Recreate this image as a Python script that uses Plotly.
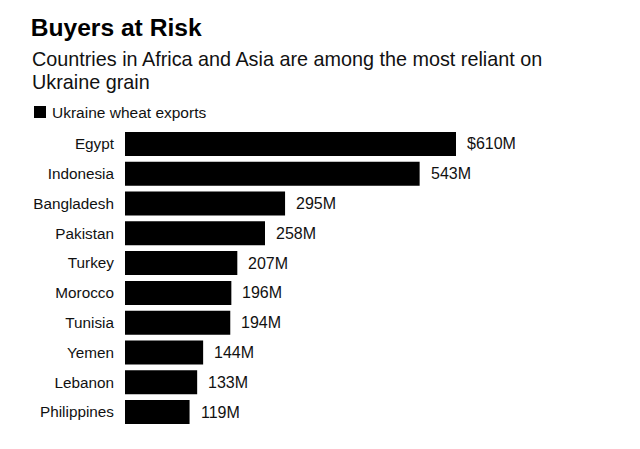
import plotly.graph_objects as go

countries = ["Egypt", "Indonesia", "Bangladesh", "Pakistan", "Turkey",
             "Morocco", "Tunisia", "Yemen", "Lebanon", "Philippines"]
exports_musd = [610, 543, 295, 258, 207, 196, 194, 144, 133, 119]
value_labels = ["$610M", "543M", "295M", "258M", "207M",
                "196M", "194M", "144M", "133M", "119M"]

FONT = "Liberation Sans, Arial, Helvetica, sans-serif"
W, H = 640, 449
L, T, B = 125, 129, 22
plot_w = 395
R = W - L - plot_w
xmax = 610 * plot_w / 331.0

fig = go.Figure()
fig.add_trace(go.Bar(
    x=exports_musd, y=countries, orientation="h",
    marker=dict(color="#000000", line=dict(width=0)),
    name="Ukraine wheat exports", showlegend=False,
    hoverinfo="skip",
))

annotations = []
for c, v, lab in zip(countries, exports_musd, value_labels):
    annotations.append(dict(
        x=v, y=c, xref="x", yref="y", text=lab, showarrow=False,
        xanchor="left", yanchor="middle", xshift=9,
        font=dict(family=FONT, size=16, color="#111111"),
    ))

# subtitle (two lines)
for txt, cy in [("Countries in Africa and Asia are among the most reliant on", 59),
                ("Ukraine grain", 82)]:
    annotations.append(dict(
        xref="paper", yref="paper", x=0, y=1, xshift=32 - L - 2, yshift=T - cy,
        xanchor="left", yanchor="middle", align="left", showarrow=False,
        text=txt,
        font=dict(family=FONT, size=19.8, color="#111111"),
    ))
# legend text
annotations.append(dict(
    xref="paper", yref="paper", x=0, y=1, xshift=52 - L - 2, yshift=T - 112,
    xanchor="left", yanchor="middle", showarrow=False,
    text="Ukraine wheat exports",
    font=dict(family=FONT, size=15.5, color="#111111"),
))

fig.update_layout(
    width=W, height=H,
    margin=dict(l=L, r=R, t=T, b=B, pad=0),
    paper_bgcolor="white", plot_bgcolor="white",
    bargap=0.195,
    title=dict(
        text="<b>Buyers at Risk</b>", x=32 / W - 0.002, xanchor="left",
        xref="container",
        y=1 - 27 / H, yanchor="middle",
        font=dict(family=FONT, size=24.6, color="#000000"),
    ),
    xaxis=dict(range=[0, xmax], visible=False, fixedrange=True),
    yaxis=dict(autorange="reversed", showgrid=False, zeroline=False,
               showline=False, ticks="", ticklabelstandoff=10,
               tickfont=dict(family=FONT, size=15.3, color="#111111"),
               fixedrange=True),
    shapes=[dict(
        type="rect", xref="paper", yref="paper",
        xsizemode="pixel", ysizemode="pixel", xanchor=0, yanchor=1,
        x0=34 - L, x1=46 - L, y0=T - 118, y1=T - 106,
        fillcolor="#000000", line=dict(width=0),
    )],
    annotations=annotations,
    showlegend=False,
)

fig.write_html("out.html", config={"displayModeBar": False},
               post_script="document.body.style.margin='0px';")
